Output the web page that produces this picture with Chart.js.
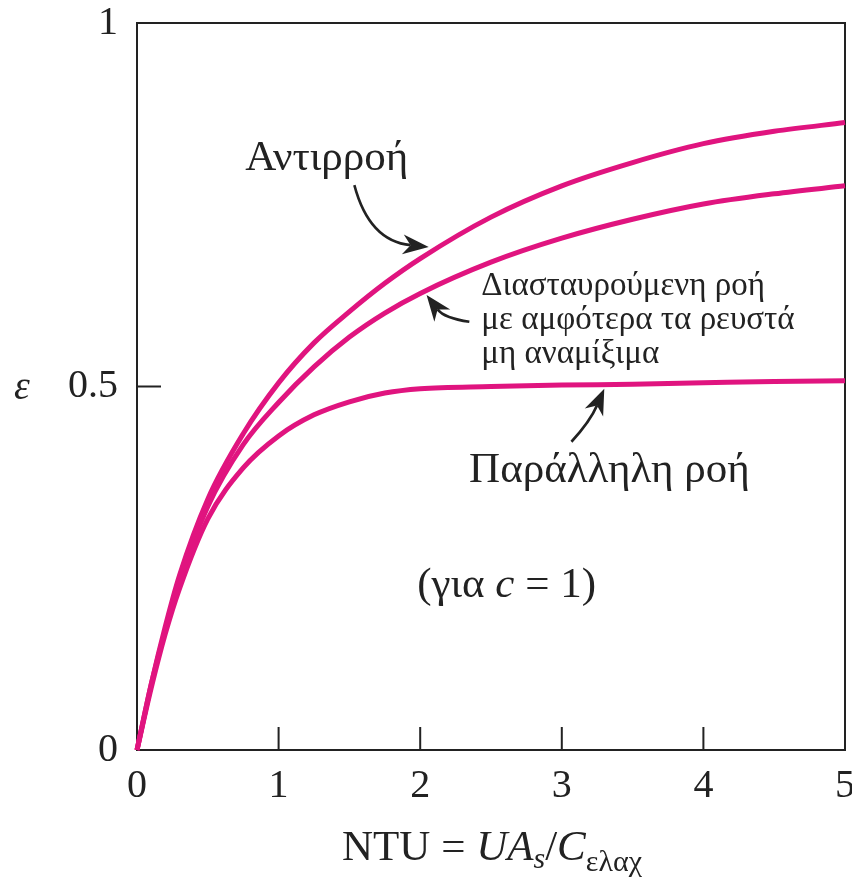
<!DOCTYPE html>
<html><head><meta charset="utf-8">
<script src="https://cdn.jsdelivr.net/npm/chart.js@4.4.0/dist/chart.umd.min.js"></script>
<style>html,body{margin:0;padding:0;background:#fff;}canvas{display:block;}</style>
</head><body>
<canvas id="c" width="852" height="878"></canvas>
<script>
// ---- data ----
const ntu          = [0, 0.1, 0.2, 0.3, 0.5, 0.75, 1, 1.25, 1.5, 1.75, 2, 2.5, 3, 3.5, 4, 4.5, 5];
const counterflow  = [0, 0.09, 0.17, 0.24, 0.345, 0.435, 0.505, 0.56, 0.603, 0.642, 0.676, 0.733, 0.776, 0.808, 0.834, 0.851, 0.863];
const crossflow    = [0, 0.09, 0.165, 0.232, 0.335, 0.42, 0.478, 0.527, 0.568, 0.601, 0.628, 0.671, 0.704, 0.73, 0.751, 0.765, 0.776];
const parallelflow = [0, 0.085, 0.16, 0.222, 0.318, 0.388, 0.432, 0.461, 0.479, 0.491, 0.497, 0.5, 0.502, 0.503, 0.505, 0.507, 0.508];
const xTicks = [0, 1, 2, 3, 4, 5];
const yTicks = [0, 0.5, 1];
const seriesNames = ['Αντιρροή', 'Διασταυρούμενη ροή', 'Παράλληλη ροή'];

const LINE = '#e0147f';
const INK = '#222';
const SERIF = '"Liberation Serif", "DejaVu Serif", serif';

function pts(vals){ return ntu.map((x,i)=>({x:x, y:vals[i]})); }
function ds(label, vals){
  return {label, data: pts(vals), borderColor: LINE, borderWidth: 5, pointRadius: 0,
          cubicInterpolationMode: 'monotone', fill: false, clip: false};
}

// annotations in data units
const notes = {
  counterText: {x: 1.34, y: 0.798, text: 'Αντιρροή', size: 43},
  counterArrow: {tail: [1.535, 0.777], ctrl: [1.64, 0.70], tip: [2.06, 0.692]},
  crossLines: {x: 2.432, y: [0.626, 0.579, 0.532], text: ['Διασταυρούμενη ροή', 'με αμφότερα τα ρευστά', 'μη αναμίξιμα'], size: 33},
  crossArrow: {tail: [2.347, 0.589], ctrl: [2.17, 0.594], tip: [2.045, 0.626]},
  parText: {x: 3.336, y: 0.369, text: 'Παράλληλη ροή', size: 43},
  parArrow: {tail: [3.068, 0.424], ctrl: [3.2, 0.452], tip: [3.3, 0.497]},
  cNote: {x: 2.61, y: 0.21, size: 43}
};

function drawRuns(ctx, runs, cx, baseY, align){
  let total = 0;
  runs.forEach(r=>{ ctx.font = (r.italic?'italic ':'') + r.size + 'px ' + SERIF; r.w = ctx.measureText(r.t).width; total += r.w; });
  let x = align === 'left' ? cx : cx - total/2;
  ctx.textAlign = 'left'; ctx.textBaseline = 'alphabetic';
  runs.forEach(r=>{ ctx.font = (r.italic?'italic ':'') + r.size + 'px ' + SERIF; ctx.fillText(r.t, x, baseY + (r.dy||0)); x += r.w; });
}

function arrow(ctx, xs, ys, a){
  const t = [xs.getPixelForValue(a.tail[0]), ys.getPixelForValue(a.tail[1])];
  const c = [xs.getPixelForValue(a.ctrl[0]), ys.getPixelForValue(a.ctrl[1])];
  const p = [xs.getPixelForValue(a.tip[0]), ys.getPixelForValue(a.tip[1])];
  const ang = Math.atan2(p[1]-c[1], p[0]-c[0]);
  const L = 26, W = 10;
  const bx = p[0] - Math.cos(ang)*L*0.7, by = p[1] - Math.sin(ang)*L*0.7;
  ctx.save();
  ctx.strokeStyle = INK; ctx.fillStyle = INK; ctx.lineWidth = 2.6;
  ctx.beginPath(); ctx.moveTo(t[0], t[1]); ctx.quadraticCurveTo(c[0], c[1], bx, by); ctx.stroke();
  ctx.beginPath();
  ctx.moveTo(p[0], p[1]);
  ctx.lineTo(p[0] - Math.cos(ang)*L + Math.sin(ang)*W, p[1] - Math.sin(ang)*L - Math.cos(ang)*W);
  ctx.lineTo(p[0] - Math.cos(ang)*L*0.7, p[1] - Math.sin(ang)*L*0.7);
  ctx.lineTo(p[0] - Math.cos(ang)*L - Math.sin(ang)*W, p[1] - Math.sin(ang)*L + Math.cos(ang)*W);
  ctx.closePath(); ctx.fill();
  ctx.restore();
}

const framePlugin = {
  id: 'frame',
  beforeDatasetsDraw(chart){
    const {ctx, chartArea: a, scales: {x, y}} = chart;
    ctx.save();
    ctx.strokeStyle = INK; ctx.lineWidth = 2;
    ctx.strokeRect(a.left, a.top, a.right - a.left, a.bottom - a.top);
    ctx.beginPath();
    xTicks.forEach(v=>{ if (v>0 && v<5){ const px = x.getPixelForValue(v); ctx.moveTo(px, a.bottom); ctx.lineTo(px, a.bottom - 23); } });
    yTicks.forEach(v=>{ if (v>0 && v<1){ const py = y.getPixelForValue(v); ctx.moveTo(a.left, py); ctx.lineTo(a.left + 24, py); } });
    ctx.stroke();
    ctx.restore();
  },
  afterDraw(chart){
    const {ctx, chartArea: a, scales: {x, y}} = chart;
    ctx.save();
    ctx.fillStyle = INK;
    // y axis symbol
    ctx.font = 'italic 40px ' + SERIF; ctx.textAlign = 'center'; ctx.textBaseline = 'middle';
    ctx.fillText('ε', 22, y.getPixelForValue(0.5) + 2);
    // x axis title
    drawRuns(ctx, [
      {t:'NTU = ', size:43}, {t:'UA', size:43, italic:true}, {t:'s', size:30, italic:true, dy:8},
      {t:'/', size:43}, {t:'C', size:43, italic:true}, {t:'ελαχ', size:30, dy:11}
    ], 492, chart.height - 18);
    // labels
    const n = notes;
    ctx.font = n.counterText.size + 'px ' + SERIF; ctx.textAlign = 'center'; ctx.textBaseline = 'alphabetic';
    ctx.fillText(n.counterText.text, x.getPixelForValue(n.counterText.x), y.getPixelForValue(n.counterText.y));
    ctx.font = n.crossLines.size + 'px ' + SERIF; ctx.textAlign = 'left';
    n.crossLines.text.forEach((t,i)=> ctx.fillText(t, x.getPixelForValue(n.crossLines.x), y.getPixelForValue(n.crossLines.y[i])));
    ctx.font = n.parText.size + 'px ' + SERIF; ctx.textAlign = 'center';
    ctx.fillText(n.parText.text, x.getPixelForValue(n.parText.x), y.getPixelForValue(n.parText.y));
    drawRuns(ctx, [{t:'(για ', size:n.cNote.size}, {t:'c', size:n.cNote.size, italic:true}, {t:' = 1)', size:n.cNote.size}],
      x.getPixelForValue(n.cNote.x), y.getPixelForValue(n.cNote.y));
    arrow(ctx, x, y, n.counterArrow);
    arrow(ctx, x, y, n.crossArrow);
    arrow(ctx, x, y, n.parArrow);
    ctx.restore();
  }
};

new Chart(document.getElementById('c'), {
  type: 'line',
  data: { datasets: [ds(seriesNames[0], counterflow), ds(seriesNames[1], crossflow), ds(seriesNames[2], parallelflow)] },
  options: {
    responsive: false, animation: false, devicePixelRatio: 1,
    layout: { padding: { top: 23, right: 7, left: 0, bottom: 0 } },
    plugins: { legend: { display: false }, tooltip: { enabled: false } },
    scales: {
      x: {
        type: 'linear', min: 0, max: 5,
        afterBuildTicks: s => { s.ticks = xTicks.map(v=>({value:v})); },
        afterFit: s => { s.height = 128; s.paddingLeft = 0; s.paddingRight = 0; },
        grid: { display: false, drawTicks: false },
        border: { display: false },
        ticks: { font: { family: SERIF, size: 40 }, color: INK, padding: 12, maxRotation: 0, callback: v => String(v) }
      },
      y: {
        type: 'linear', min: 0, max: 1,
        afterBuildTicks: s => { s.ticks = yTicks.map(v=>({value:v})); },
        afterFit: s => { s.width = 137; s.paddingTop = 0; s.paddingBottom = 0; },
        grid: { display: false, drawTicks: false },
        border: { display: false },
        ticks: { font: { family: SERIF, size: 40 }, color: INK, padding: 19, callback: v => String(v) }
      }
    }
  },
  plugins: [framePlugin]
});
</script>
</body></html>
